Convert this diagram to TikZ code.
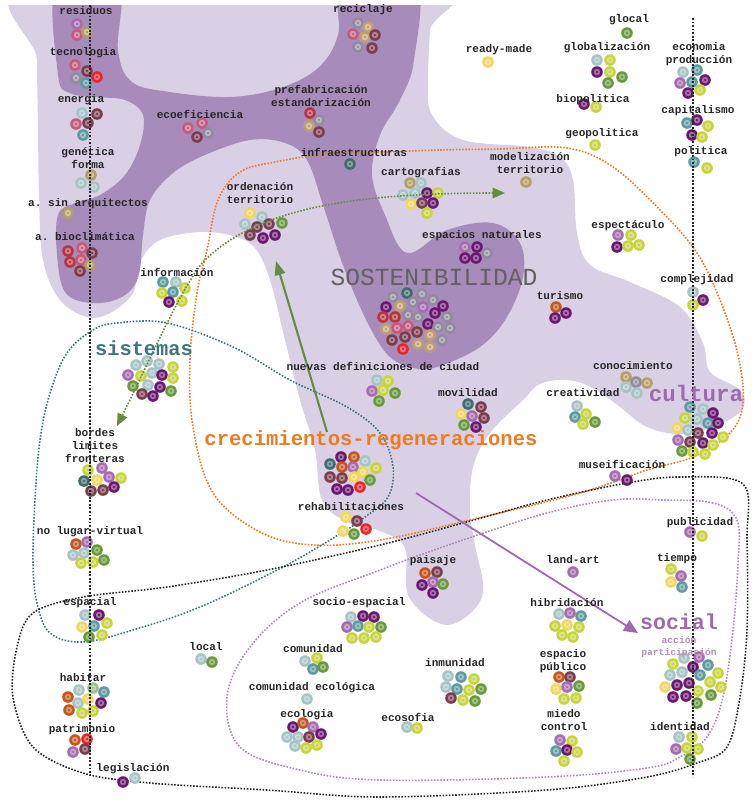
\documentclass[tikz,border=0pt]{standalone}
\usepackage{fontspec}
\setmonofont{Liberation Mono}
\usetikzlibrary{arrows.meta}
\definecolor{lav}{RGB}{217,208,229}
\definecolor{lavosc}{RGB}{167,140,187}
\definecolor{tlg}{RGB}{166,196,198}
\definecolor{tea}{RGB}{92,155,163}
\definecolor{dte}{RGB}{58,108,112}
\definecolor{dpu}{RGB}{108,22,114}
\definecolor{ygr}{RGB}{200,212,62}
\definecolor{grn}{RGB}{104,154,60}
\definecolor{grc}{RGB}{156,192,138}
\definecolor{yel}{RGB}{240,216,98}
\definecolor{mau}{RGB}{168,106,176}
\definecolor{mar}{RGB}{122,60,78}
\definecolor{ora}{RGB}{196,86,27}
\definecolor{rjo}{RGB}{232,38,42}
\definecolor{rma}{RGB}{182,52,62}
\definecolor{pnk}{RGB}{198,90,124}
\definecolor{gry}{RGB}{146,138,158}
\definecolor{tna}{RGB}{192,160,112}
\definecolor{olv}{RGB}{178,160,98}
\definecolor{naranja}{RGB}{238,122,34}
\definecolor{verdeazul}{RGB}{62,118,124}
\definecolor{morado}{RGB}{160,104,176}
\definecolor{verdeflecha}{RGB}{104,140,62}
\newcommand{\bolas}[1]{\foreach \x/\y/\c in {#1} {\fill[\c] (\x,\y) circle (5.8); \fill[white, opacity=.4] (\x,\y) circle (3.2); \fill[\c] (\x,\y) circle (1.4);}}
\tikzset{
  etiq/.style={font=\ttfamily\bfseries\fontsize{6.3}{7.4}\selectfont, text=black!85, inner sep=0pt, align=center},
  titulo/.style={font=\ttfamily\bfseries\fontsize{#1}{#1}\selectfont, inner sep=0pt},
  puntos/.style={line width=.9pt, dash pattern=on .9pt off .9pt},
  eje/.style={line width=1.1pt, dash pattern=on 1.1pt off .9pt, black!85},
}
\begin{document}
\begin{tikzpicture}[x=0.02cm, y=-0.02cm]
\useasboundingbox (0,0) rectangle (755,806);
\fill[white] (0,0) rectangle (755,806);
\begin{scope}
\clip (0,5) rectangle (755,806);
\fill[lav] plot[smooth cycle, tension=.6] coordinates {(37,-20) (432,-20) (430,30) (428,80) (432,115) (463,140) (530,147) (560,157) (573,180) (577,233) (590,265) (630,282) (680,307) (703,343) (710,372) (740,390) (742,410) (713,427) (680,434) (647,427) (620,407) (593,388) (567,380) (540,384) (523,400) (490,433) (473,467) (470,513) (475,545) (482,597) (447,625) (409,597) (405,548) (380,531) (347,522) (322,500) (315,450) (300,400) (285,340) (270,280) (255,248) (233,236) (200,232) (160,240) (140,262) (133,293) (110,313) (87,317) (60,300) (43,260) (39,193) (38,127) (37,60)};
\fill[lavosc] plot[smooth cycle, tension=.6] coordinates {(57,-20) (118,-20) (118,50) (132,82) (170,92) (230,97) (280,88) (318,68) (338,35) (343,-20) (415,-20) (414,60) (400,100) (380,135) (372,175) (385,215) (407,253) (447,230) (493,223) (520,243) (523,277) (507,317) (480,347) (437,367) (413,368) (390,357) (373,333) (357,300) (340,257) (323,205) (307,160) (285,143) (250,140) (205,155) (173,173) (150,200) (143,235) (138,278) (120,298) (90,303) (65,292) (57,255) (58,215) (75,203) (100,195) (125,175) (140,145) (143,115) (125,100) (95,97) (70,93) (58,75)};
\end{scope}
\draw[puntos, naranja] plot[smooth cycle, tension=.6] coordinates {(380,152) (440,150) (500,149) (567,148) (613,167) (663,213) (697,253) (720,300) (738,355) (743,403) (730,433) (693,457) (647,470) (580,493) (470,520) (380,540) (313,545) (260,532) (213,493) (193,427) (190,360) (197,293) (207,250) (218,200) (240,172) (275,162) (333,153)};
\draw[puntos, verdeazul] plot[smooth cycle, tension=.6] coordinates {(93,330) (117,323) (167,323) (233,347) (290,380) (347,407) (380,433) (393,467) (388,497) (365,517) (343,532) (283,567) (200,607) (133,630) (83,642) (50,633) (37,603) (33,563) (35,500) (40,440) (50,393) (67,353)};
\draw[puntos, black!85] plot[smooth cycle, tension=.55] coordinates {(743,484) (680,477) (627,483) (547,500) (463,523) (380,545) (267,570) (167,587) (83,597) (33,613) (17,647) (13,697) (33,747) (83,773) (150,783) (267,790) (380,797) (547,790) (647,777) (697,763) (727,747) (740,697) (747,630) (747,540)};
\draw[puntos, morado!80] plot[smooth cycle, tension=.6] coordinates {(737,520) (713,503) (663,500) (613,500) (547,513) (463,540) (380,570) (300,603) (250,647) (227,697) (240,747) (300,770) (380,780) (547,777) (647,768) (680,757) (707,737) (723,697) (733,630) (738,563)};
\bolas{77/24/mau, 77/35/pnk, 87/32/olv}
\bolas{75/65/pnk, 87/71/mar, 97/77/rjo, 76/78/gry, 86/83/tea}
\bolas{82/113/tlg, 97/114/mar, 76/124/pnk, 88/123/mar, 83/135/tea}
\bolas{91/175/olv, 81/183/tlg, 94/187/tlg}
\bolas{68/213/olv}
\bolas{68/251/rma, 82/248/pnk, 92/253/mar, 70/262/rma, 81/260/pnk, 90/265/olv, 80/271/mar}
\bolas{358/23/gry, 368/27/tna, 353/34/pnk, 365/37/tna, 375/35/mar, 358/47/gry, 372/48/mar}
\bolas{188/128/pnk, 202/123/pnk, 208/133/gry, 197/137/mar}
\bolas{310/113/rma, 319/120/gry, 309/126/tna, 319/132/mar}
\bolas{350/164/dte}
\bolas{250/213/yel, 262/217/tlg, 245/224/tlg, 257/227/mar, 269/224/mar, 282/223/grn, 250/235/mar, 263/238/dpu, 275/235/dpu}
\bolas{410/183/olv, 421/183/tlg, 403/195/tlg, 415/193/tlg, 427/193/dpu, 438/193/ygr, 411/204/yel, 422/203/mar, 433/203/dpu, 427/213/ygr}
\bolas{526/182/olv}
\bolas{488/62/yel}
\bolas{627/33/grn}
\bolas{597/60/tlg, 610/60/ygr, 597/72/dpu, 610/72/ygr, 622/77/grn, 608/83/grn}
\bolas{584/104/dpu, 596/107/ygr}
\bolas{595/145/ygr}
\bolas{683/72/tlg, 697/70/tea, 680/83/mau, 692/82/tea, 705/80/dpu, 688/93/dpu, 700/90/ygr}
\bolas{687/123/tea, 697/120/dpu, 708/126/ygr, 692/135/dpu, 702/137/ygr}
\bolas{694/162/tea, 707/168/ygr}
\bolas{618/235/mau, 631/235/ygr, 617/247/dpu, 628/246/ygr, 639/245/ygr}
\bolas{465/247/mau, 477/247/dpu, 465/258/dpu, 476/258/dpu, 487/253/gry}
\bolas{393/297/gry, 407/293/dte, 422/294/gry, 433/300/gry, 443/306/dpu, 386/307/dpu, 400/306/tna, 413/302/gry, 423/307/mau, 435/313/dpu, 447/317/gry, 383/317/rma, 395/317/rma, 408/315/gry, 418/317/gry, 428/324/dpu, 438/327/gry, 450/328/gry, 386/329/tna, 397/328/pnk, 408/326/pnk, 417/332/mar, 430/335/tna, 442/340/gry, 392/340/mar, 405/337/mar, 418/344/tna, 430/347/tna, 403/349/rjo}
\bolas{377/380/tlg, 388/381/ygr, 372/391/mau, 383/390/ygr, 395/393/grn, 379/401/grn}
\bolas{468/404/dte, 481/407/mar, 461/414/yel, 472/416/mau, 484/418/mar, 464/425/grn, 476/427/dpu}
\bolas{341/457/dpu, 354/457/ora, 365/461/tlg, 330/464/dte, 342/467/ora, 353/467/mau, 363/472/yel, 376/468/ygr, 330/477/mar, 342/478/mar, 354/477/yel, 370/480/grn, 337/489/dpu, 348/490/dpu, 360/487/rjo}
\bolas{346/517/yel, 357/521/mar, 366/529/rjo, 343/531/yel, 354/534/grn}
\bolas{556/307/ora, 555/318/dpu, 566/313/dpu}
\bolas{693/292/tlg, 703/300/dpu, 693/305/ygr}
\bolas{626/377/olv, 636/382/gry, 647/383/olv, 626/387/tlg, 637/393/tlg}
\bolas{577/406/tlg, 575/417/tea, 586/414/ygr, 595/422/grn, 583/424/ygr}
\bolas{690/407/tea, 703/409/tlg, 713/413/dpu, 685/418/ygr, 697/419/tlg, 708/423/tea, 718/423/dpu, 677/428/yel, 688/430/tlg, 698/433/mar, 712/433/dpu, 723/437/ygr, 678/440/mau, 690/442/mar, 703/443/dpu, 713/445/ygr, 682/451/grn, 693/452/ygr, 705/454/ygr}
\bolas{615/476/mau, 627/480/dpu}
\bolas{690/532/mau, 702/536/ygr}
\bolas{163/282/tea, 176/282/tlg, 162/293/ygr, 173/292/tea, 185/288/ygr, 169/302/dpu, 182/301/ygr}
\bolas{136/365/tlg, 147/361/tlg, 159/364/tlg, 173/367/ygr, 128/375/mau, 141/376/ygr, 152/373/tlg, 162/375/dpu, 173/378/ygr, 133/386/grn, 148/385/tlg, 160/387/dpu, 171/391/grn, 142/394/mar, 153/396/dpu}
\bolas{88/470/ygr, 102/468/mau, 84/481/dte, 97/480/yel, 109/477/mau, 121/478/ygr, 91/491/mar, 103/490/mar, 114/487/dpu}
\bolas{76/544/ora, 87/542/mau, 97/550/grn, 73/555/tlg, 84/553/tlg, 81/563/ygr, 93/562/ygr, 104/560/grn}
\bolas{85/615/tlg, 99/615/dpu, 82/627/yel, 94/626/tea, 107/623/ygr, 89/637/grn, 102/635/ygr}
\bolas{201/659/tlg, 212/662/grn}
\bolas{305/661/tlg, 317/658/ygr, 313/669/tea, 323/667/grn}
\bolas{307/699/tlg}
\bolas{79/690/tlg, 93/688/grc, 104/692/tea, 68/697/ora, 78/703/tlg, 88/699/yel, 101/703/dpu, 69/710/ora, 82/713/ygr, 93/711/ygr}
\bolas{75/740/ora, 87/739/rjo, 73/752/mau, 85/749/mar}
\bolas{123/782/dpu, 135/778/tlg}
\bolas{293/727/dpu, 303/723/ora, 313/727/mau, 321/734/dpu, 287/737/tlg, 298/737/tlg, 309/737/mar, 295/746/tlg, 306/748/ygr, 317/745/ygr}
\bolas{351/617/tlg, 363/616/dpu, 374/617/dpu, 347/627/mau, 358/626/tea, 369/627/ygr, 381/627/grn, 352/638/ygr, 364/638/ygr, 376/637/ygr}
\bolas{425/573/ora, 437/572/mar, 422/585/dpu, 433/582/mau, 443/584/grn, 433/593/dpu}
\bolas{573/572/mau}
\bolas{671/569/ygr, 681/576/mau, 671/582/yel, 682/587/tea}
\bolas{559/614/tlg, 570/613/mau, 581/616/tea, 555/626/ygr, 567/625/yel, 579/627/ygr, 562/635/ygr, 573/637/ygr}
\bolas{448/676/tlg, 461/677/tea, 474/679/ygr, 446/687/tlg, 457/689/tea, 469/690/ygr, 481/689/grn, 451/698/mar, 463/700/ygr, 475/701/grn}
\bolas{559/677/ora, 570/677/mar, 556/689/yel, 567/687/mau, 579/686/grn, 564/699/ygr, 576/698/ygr}
\bolas{407/727/tlg, 417/728/ygr}
\bolas{560/740/mau, 572/741/ygr, 556/751/tea, 567/750/dpu, 577/752/ygr, 564/761/ygr}
\bolas{673/664/ygr, 684/658/tlg, 699/657/mau, 670/675/tlg, 682/672/tlg, 693/667/dpu, 708/665/tea, 718/673/ygr, 665/687/yel, 677/685/dpu, 689/683/dpu, 700/675/tea, 710/682/ygr, 721/687/ygr, 673/697/dpu, 686/696/dpu, 698/691/ygr, 711/695/grn, 697/703/grn}
\bolas{679/737/tlg, 692/737/ygr, 676/749/mau, 687/748/ygr, 698/749/ygr, 690/759/grn}
\coordinate (ejeizq1) at (90,5);
\coordinate (ejeizq2) at (90,777);
\coordinate (ejeder1) at (693,18);
\coordinate (ejeder2) at (693,777);
\draw[eje] (ejeizq1) -- (ejeizq2);
\draw[eje] (ejeder1) -- (ejeder2);
\coordinate (puntabordes) at (117,426);
\coordinate (pasoinfo) at (203,262);
\coordinate (puntamodel) at (505,193);
\draw[puntos, verdeflecha, {Triangle[length=7pt, width=6pt]}-{Triangle[length=7pt, width=6pt]}] (puntabordes) .. controls (150,360) and (180,290) .. (pasoinfo) .. controls (250,215) and (330,193) .. (puntamodel);
\coordinate (colacrec) at (327,432);
\coordinate (puntaorden) at (276,261);
\draw[verdeflecha, line width=1.2pt, -{Triangle[length=8pt, width=6pt]}] (colacrec) -- (puntaorden);
\coordinate (colarehab) at (416,493);
\coordinate (puntasocial) at (638,633);
\draw[morado, line width=1pt, -{Triangle[length=8pt, width=7pt]}] (colarehab) -- (puntasocial);
\node[font=\ttfamily\fontsize{14}{14}\selectfont, text=black!62, inner sep=0pt] (sostenibilidad) at (434,277) {SOSTENIBILIDAD};
\node[titulo=11.6, text=verdeazul] (sistemas) at (144,348) {sistemas};
\node[titulo=11.7, text=naranja] (crecimientos) at (371,440) {crecimientos-regeneraciones};
\node[titulo=12.8, text=morado] (cultura) at (696,393) {cultura};
\node[titulo=12.3, text=morado] (social) at (679,622) {social};
\node[font=\ttfamily\bfseries\fontsize{5.5}{6.3}\selectfont, text=morado!75, inner sep=0pt, align=center] (accion) at (679,647) {acción\\participación};
\node[etiq] (residuos) at (86,11) {residuos};
\node[etiq] (tecnologia) at (83,53) {tecnologia};
\node[etiq] (energia) at (81,100) {energia};
\node[etiq] (genetica) at (88,158) {genética\\forma};
\node[etiq] (sinarq) at (88,204) {a. sin arquitectos};
\node[etiq] (bioclim) at (85,237) {a. bioclimática};
\node[etiq] (ecoef) at (200,114) {ecoeficiencia};
\node[etiq] (prefab) at (321,96) {prefabricación\\estandarización};
\node[etiq] (infraest) at (354,152) {infraestructuras};
\node[etiq] (reciclaje) at (363,10) {reciclaje};
\node[etiq] (ordenacion) at (260,193) {ordenación\\territorio};
\node[etiq] (informacion) at (177,272) {información};
\node[etiq] (readymade) at (499,50) {ready-made};
\node[etiq] (glocal) at (629,20) {glocal};
\node[etiq] (globalizacion) at (607,48) {globalización};
\node[etiq] (economia) at (699,54) {economia\\producción};
\node[etiq] (biopolitica) at (593,100) {biopolitica};
\node[etiq] (capitalismo) at (698,111) {capitalismo};
\node[etiq] (geopolitica) at (602,134) {geopolitica};
\node[etiq] (politica) at (701,152) {politica};
\node[etiq] (modelizacion) at (530,163) {modelización\\territorio};
\node[etiq] (cartografias) at (421,173) {cartografias};
\node[etiq] (espectaculo) at (628,226) {espectáculo};
\node[etiq] (espnat) at (482,236) {espacios naturales};
\node[etiq] (complejidad) at (697,280) {complejidad};
\node[etiq] (turismo) at (560,296) {turismo};
\node[etiq] (conocimiento) at (633,366) {conocimiento};
\node[etiq] (creatividad) at (583,393) {creatividad};
\node[etiq] (movilidad) at (468,393) {movilidad};
\node[etiq] (nuevas) at (383,366) {nuevas definiciones de ciudad};
\node[etiq] (museificacion) at (622,464) {museificación};
\node[etiq] (publicidad) at (700,523) {publicidad};
\node[etiq] (bordes) at (95,446) {bordes\\limites\\fronteras};
\node[etiq] (nolugar) at (90,532) {no lugar-virtual};
\node[etiq] (rehab) at (351,507) {rehabilitaciones};
\node[etiq] (espacial) at (90,603) {espacial};
\node[etiq] (socioesp) at (359,603) {socio-espacial};
\node[etiq] (local) at (206,647) {local};
\node[etiq] (comunidad) at (313,649) {comunidad};
\node[etiq] (comeco) at (312,688) {comunidad ecológica};
\node[etiq] (ecologia) at (307,715) {ecologia};
\node[etiq] (habitar) at (83,678) {habitar};
\node[etiq] (patrimonio) at (82,730) {patrimonio};
\node[etiq] (legislacion) at (133,769) {legislación};
\node[etiq] (paisaje) at (433,561) {paisaje};
\node[etiq] (landart) at (573,560) {land-art};
\node[etiq] (tiempo) at (677,559) {tiempo};
\node[etiq] (hibridacion) at (567,603) {hibridación};
\node[etiq] (inmunidad) at (455,663) {inmunidad};
\node[etiq] (espub) at (563,661) {espacio\\público};
\node[etiq] (ecosofia) at (408,717) {ecosofia};
\node[etiq] (miedo) at (564,720) {miedo\\control};
\node[etiq] (identidad) at (680,727) {identidad};
\end{tikzpicture}
\end{document}
